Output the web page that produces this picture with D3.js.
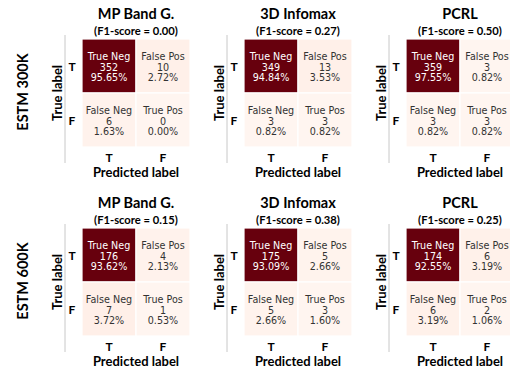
<!DOCTYPE html>
<html>
<head>
<meta charset="utf-8">
<script src="https://cdn.jsdelivr.net/npm/d3@7"></script>
<style>
  body { margin: 0; background: #fff; }
  svg { display: block; }
</style>
</head>
<body>
<div id="vis"></div>
<script>
const WIDTH = 510;
const HEIGHT = 368;

// Datos ----------------------------------------------------------------
const modelos = ["MP Band G.", "3D Infomax", "PCRL"];
const datasets = ["ESTM 300K", "ESTM 600K"];
const etiquetas = ["T", "F"];
const nombresCelda = ["True Neg", "False Pos", "False Neg", "True Pos"];

// f1 por dataset (fila) y modelo (columna)
const f1Scores = [
    [0.00, 0.27, 0.50],
    [0.15, 0.38, 0.25]
];

// conteos [TN, FP, FN, TP]
const conteos300K = [[352, 10, 6, 0], [349, 13, 3, 3], [359, 3, 3, 3]];
const conteos600K = [[176, 4, 7, 1], [175, 5, 5, 3], [174, 6, 6, 2]];
const conteos = [conteos300K, conteos600K];

// ----------------------------------------------------------------------
const SVG = d3.select("#vis").append("svg")
    .attr("width", WIDTH)
    .attr("height", HEIGHT);

const fuenteTitulo = "Lato, 'Open Sans', sans-serif";
const fuenteCelda = "'DejaVu Sans', sans-serif";

const panelX = d3.scaleLinear().domain([0, modelos.length - 1]).range([82, 406]);
const panelY = d3.scaleLinear().domain([0, datasets.length - 1]).range([39, 228]);

const escalaCelda = d3.scaleBand().domain(etiquetas).range([0, 108]);

datasets.forEach((ds, fila) => {
    // nombre del dataset a la izquierda
    SVG.append("text")
        .attr("transform", `translate(22,${panelY(fila) + 53}) rotate(-90)`)
        .attr("text-anchor", "middle")
        .attr("dominant-baseline", "central")
        .attr("font-family", fuenteTitulo)
        .attr("font-weight", "bold")
        .attr("font-size", "14.5px")
        .attr("fill", "#000")
        .text(ds);

    modelos.forEach((modelo, col) => {
        const g = SVG.append("g")
            .attr("transform", `translate(${panelX(col)},${panelY(fila)})`);

        const valores = conteos[fila][col];
        const total = d3.sum(valores);
        const color = d3.scaleSequential(d3.interpolateReds)
            .domain([d3.min(valores), d3.max(valores)]);

        const celdas = valores.map((v, i) => ({
            real: etiquetas[Math.floor(i / 2)],
            pred: etiquetas[i % 2],
            nombre: nombresCelda[i],
            valor: v,
            pct: v / total * 100
        }));

        // linea gris vertical (spine)
        g.append("line")
            .attr("x1", -17).attr("x2", -17)
            .attr("y1", -4).attr("y2", 124)
            .attr("stroke", "#c8c8c8")
            .attr("stroke-width", 1);

        g.selectAll("rect")
            .data(celdas)
            .enter()
            .append("rect")
            .attr("x", d => escalaCelda(d.pred))
            .attr("y", d => escalaCelda(d.real))
            .attr("width", escalaCelda.bandwidth())
            .attr("height", escalaCelda.bandwidth())
            .attr("fill", d => color(d.valor))
            .attr("stroke", "#fff")
            .attr("stroke-width", 1.2);

        const textos = g.selectAll(".texto")
            .data(celdas)
            .enter()
            .append("text")
            .attr("class", "texto")
            .attr("text-anchor", "middle")
            .attr("font-family", fuenteCelda)
            .attr("font-size", "9.6px")
            .attr("fill", d => d.valor === d3.max(valores) ? "#fff" : "#333");

        [d => d.nombre, d => d.valor, d => d.pct.toFixed(2) + "%"].forEach((f, k) => {
            textos.append("tspan")
                .attr("x", d => escalaCelda(d.pred) + escalaCelda.bandwidth() / 2)
                .attr("y", d => escalaCelda(d.real) + escalaCelda.bandwidth() / 2 + (k - 1) * 10.4 + 4.5)
                .text(f);
        });

        // titulo
        g.append("text")
            .attr("x", 54)
            .attr("y", -20)
            .attr("text-anchor", "middle")
            .attr("font-family", fuenteTitulo)
            .attr("font-weight", "bold")
            .attr("font-size", "14.5px")
            .attr("fill", "#000")
            .text(modelo);

        g.append("text")
            .attr("x", 54)
            .attr("y", -4.5)
            .attr("text-anchor", "middle")
            .attr("font-family", fuenteTitulo)
            .attr("font-weight", "bold")
            .attr("font-size", "11.2px")
            .attr("fill", "#000")
            .text(`(F1-score = ${f1Scores[fila][col].toFixed(2)})`);

        // ticks eje y
        g.selectAll(".ticky")
            .data(etiquetas)
            .enter()
            .append("text")
            .attr("x", -10)
            .attr("y", d => escalaCelda(d) + escalaCelda.bandwidth() / 2)
            .attr("text-anchor", "middle")
            .attr("dominant-baseline", "central")
            .attr("font-family", fuenteTitulo)
            .attr("font-weight", "bold")
            .attr("font-size", "12px")
            .text(d => d);

        // ticks eje x
        g.selectAll(".tickx")
            .data(etiquetas)
            .enter()
            .append("text")
            .attr("x", d => escalaCelda(d) + escalaCelda.bandwidth() / 2)
            .attr("y", 118.5)
            .attr("text-anchor", "middle")
            .attr("dominant-baseline", "central")
            .attr("font-family", fuenteTitulo)
            .attr("font-weight", "bold")
            .attr("font-size", "12px")
            .text(d => d);

        g.append("text")
            .attr("x", 54)
            .attr("y", 133)
            .attr("text-anchor", "middle")
            .attr("dominant-baseline", "central")
            .attr("font-family", fuenteTitulo)
            .attr("font-weight", "bold")
            .attr("font-size", "13px")
            .text("Predicted label");

        g.append("text")
            .attr("transform", `translate(-25,54) rotate(-90)`)
            .attr("text-anchor", "middle")
            .attr("dominant-baseline", "central")
            .attr("font-family", fuenteTitulo)
            .attr("font-weight", "bold")
            .attr("font-size", "13px")
            .text("True label");
    });
});
</script>
</body>
</html>
